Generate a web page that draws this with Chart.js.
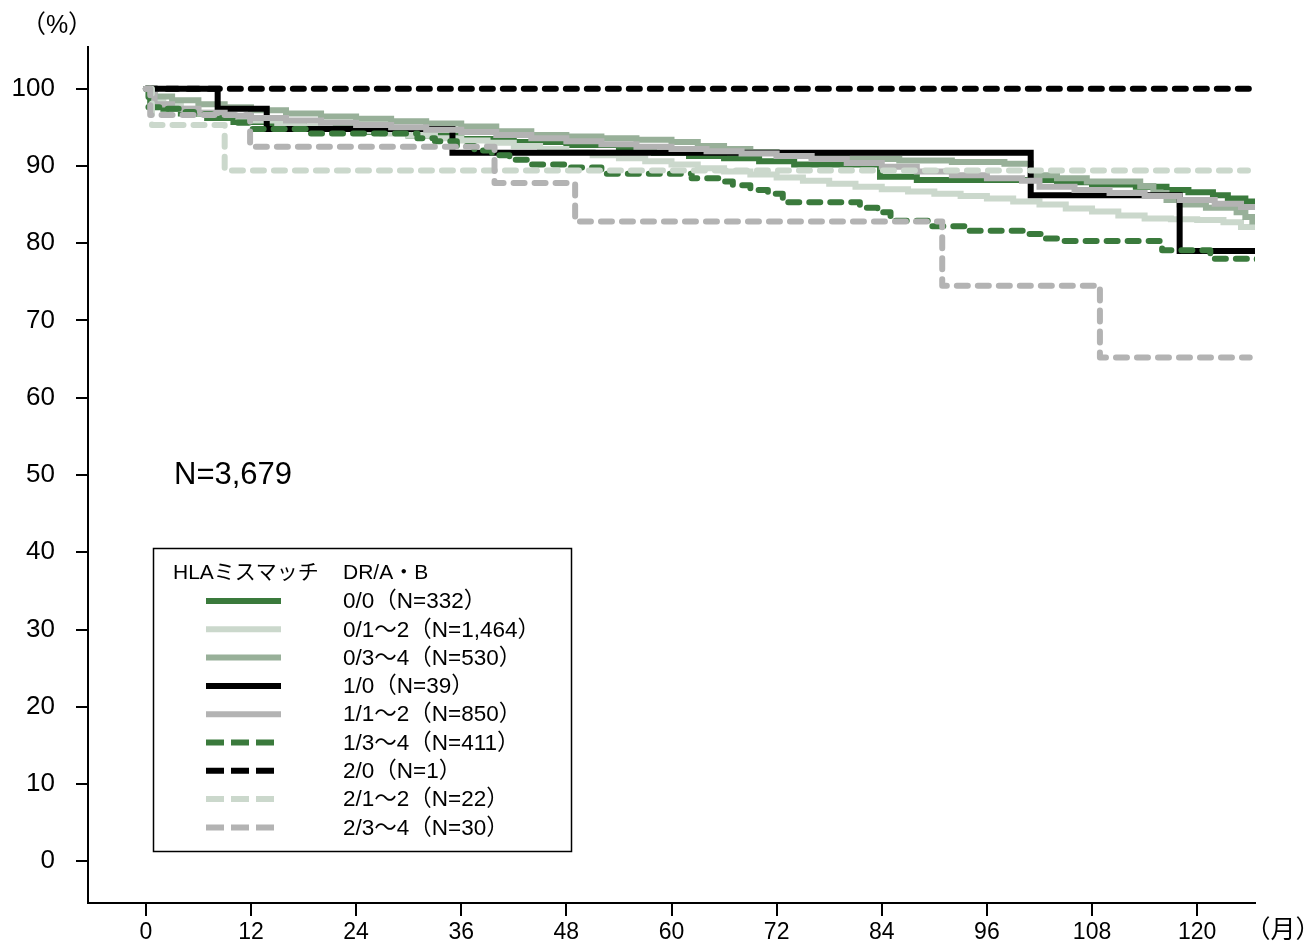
<!DOCTYPE html>
<html lang="ja">
<head>
<meta charset="utf-8">
<title>HLAミスマッチ別 生着率</title>
<script src="https://cdn.jsdelivr.net/npm/chart.js@4.4.0/dist/chart.umd.min.js"></script>
<style>
  html, body { margin: 0; padding: 0; background: #fff; }
  #chart { display: block; }
</style>
</head>
<body>
<canvas id="chart" width="1312" height="941"></canvas>
<script>
const FONT = '"Liberation Sans", Arial, "Noto Sans CJK JP", sans-serif';

// axis ticks
const xTicks = [0, 12, 24, 36, 48, 60, 72, 84, 96, 108, 120];
const yTicks = [0, 10, 20, 30, 40, 50, 60, 70, 80, 90, 100];

// legend texts, in legend order
const legendTitle = 'HLAミスマッチ';
const legendSub = 'DR/A・B';
const seriesLabels = [
  '0/0（N=332）',
  '0/1～2（N=1,464）',
  '0/3～4（N=530）',
  '1/0（N=39）',
  '1/1～2（N=850）',
  '1/3～4（N=411）',
  '2/0（N=1）',
  '2/1～2（N=22）',
  '2/3～4（N=30）'
];
const totalLabel = 'N=3,679';

// survival curves: month of each drop and the value (%) after it
const t00 = [0, 0.5, 2, 4, 7, 10, 14, 18, 24, 30, 36, 42, 48, 54, 58, 62, 66, 70, 74, 83.8, 88, 104, 108, 113, 116.5, 119, 121.8, 123.5, 125.5, 126.8];
const v00 = [100, 98.0, 97.4, 96.8, 96.2, 95.7, 95.3, 94.9, 94.4, 93.9, 93.5, 93.1, 92.7, 92.2, 91.7, 91.3, 91.0, 90.6, 90.2, 88.6, 88.2, 87.9, 87.6, 87.3, 86.9, 86.6, 86.2, 85.8, 85.4, 85.4];

const t012 = [0, 1, 2, 4, 6, 9, 12, 15, 18, 21, 24, 27, 30, 33, 36, 39, 42, 45, 48, 51, 54, 57, 60, 63, 66, 69, 72, 75, 78, 81, 84, 87, 90, 93, 96, 99, 102, 105, 108, 111, 114, 117, 120, 123, 125, 126.8];
const v012 = [100, 98.6, 98.0, 97.4, 96.9, 96.4, 95.9, 95.5, 95.1, 94.8, 94.5, 94.2, 93.9, 93.6, 93.3, 93.0, 92.6, 92.2, 91.8, 91.4, 91.0, 90.6, 90.2, 89.7, 89.3, 88.9, 88.5, 88.1, 87.7, 87.3, 87.0, 86.7, 86.4, 86.1, 85.8, 85.4, 85.0, 84.5, 84.1, 83.6, 83.2, 83.1, 83.0, 82.7, 82.1, 82.0];

const t034 = [0, 1, 3, 6, 9, 12, 16, 20, 24, 28, 32, 36, 40, 44, 48, 52, 56, 60, 63, 66, 69, 72, 76, 80, 86, 92, 98, 101, 104, 107.4, 113.5, 115, 116.5, 118, 121, 124.5, 125.5, 126.3, 126.8];
const v034 = [100, 99.0, 98.5, 98.0, 97.6, 97.2, 96.8, 96.4, 96.1, 95.8, 95.5, 95.1, 94.5, 94.0, 93.8, 93.6, 93.4, 93.1, 92.6, 92.2, 91.8, 91.5, 91.1, 90.9, 90.7, 90.5, 90.3, 88.8, 88.4, 88.0, 87.4, 86.5, 85.6, 85.0, 84.6, 84.0, 83.4, 82.8, 82.8];

const t10 = [0, 8.2, 13.8, 35, 101, 118, 126.8];
const v10 = [100, 97.4, 94.8, 91.7, 86.2, 79.0, 79.0];

const t112 = [0, 1, 3, 6, 9, 12, 16, 20, 24, 28, 32, 36, 40, 44, 48, 52, 56, 60, 64, 68, 72, 76, 80, 84, 88, 92, 96, 100, 102, 106, 110, 114, 118, 122, 125, 126.8];
const v112 = [100, 98.0, 97.4, 96.9, 96.5, 96.2, 95.9, 95.6, 95.3, 95.0, 94.7, 94.4, 94.0, 93.6, 93.2, 92.8, 92.5, 92.2, 91.9, 91.6, 91.3, 90.9, 90.4, 89.9, 89.3, 88.8, 88.4, 88.1, 87.3, 86.9, 86.5, 86.1, 85.6, 85.1, 84.7, 84.6];

const t134 = [0, 0.3, 2, 4, 5.5, 7.5, 10, 12, 18.5, 31, 33, 35.5, 37.5, 39.5, 41.5, 43.5, 48, 52, 62.3, 65.5, 67, 69, 71, 72.7, 81.5, 83.5, 85, 89.5, 93.5, 100.5, 102.5, 104, 116, 121.5, 126.8];
const v134 = [100, 97.6, 97.4, 97.0, 96.7, 96.2, 95.6, 94.8, 94.2, 93.6, 93.2, 92.6, 92.0, 91.4, 90.8, 90.2, 89.8, 89.0, 88.4, 88.0, 87.5, 86.9, 86.4, 85.3, 84.6, 84.0, 82.9, 82.2, 81.6, 81.2, 80.6, 80.3, 79.1, 78.0, 77.9];

const t20 = [0, 126.6];
const v20 = [100, 100];

const t212 = [0, 0.7, 9, 125.8];
const v212 = [100, 95.3, 89.4, 89.4];

const t234 = [0, 0.5, 11.9, 39.8, 49, 90.9, 108.9, 126];
const v234 = [100, 96.6, 92.5, 87.8, 82.8, 74.5, 65.2, 65.2];

const seriesT = [t00, t012, t034, t10, t112, t134, t20, t212, t234];
const seriesV = [v00, v012, v034, v10, v112, v134, v20, v212, v234];

// line looks
const DARK_GREEN = '#3a7a3c';
const PALE = '#cbd8cc';
const SAGE = '#98b099';
const GRAY = '#b3b3b3';
const styles = [
  { color: DARK_GREEN, dashed: false },
  { color: PALE, dashed: false },
  { color: SAGE, dashed: false },
  { color: '#000000', dashed: false },
  { color: GRAY, dashed: false },
  { color: DARK_GREEN, dashed: true },
  { color: '#000000', dashed: true },
  { color: PALE, dashed: true },
  { color: GRAY, dashed: true }
];

const datasets = seriesLabels.map(function(label, i) {
  const st = styles[i];
  return {
    label: label,
    data: seriesT[i].map(function(t, j) { return { x: t, y: seriesV[i][j] }; }),
    borderColor: st.color,
    borderWidth: 6,
    borderDash: st.dashed ? [11, 10] : [],
    borderCapStyle: st.dashed ? 'round' : 'butt',
    borderJoinStyle: st.dashed ? 'round' : 'miter',
    stepped: true,
    pointRadius: 0,
    fill: false,
    order: seriesLabels.length - i   // later series painted on top
  };
});

// legend box, unit labels and total N
const extrasPlugin = {
  id: 'extras',
  afterDraw(chart) {
    const ctx = chart.ctx;
    ctx.save();
    ctx.fillStyle = '#000';
    ctx.textBaseline = 'middle';

    ctx.font = '25px ' + FONT;
    ctx.textAlign = 'center';
    ctx.fillText('（%）', 57, 26);
    ctx.fillText('（月）', 1283, 931);

    ctx.textAlign = 'left';
    ctx.font = '31px ' + FONT;
    ctx.fillText(totalLabel, 174, chart.scales.y.getPixelForValue(50));

    ctx.lineWidth = 1.5;
    ctx.strokeStyle = '#000';
    ctx.strokeRect(153.5, 548.5, 418, 303);

    ctx.font = '21px ' + FONT;
    ctx.fillText(legendTitle, 173, 573);
    ctx.fillText(legendSub, 343, 573);

    ctx.font = '22.5px ' + FONT;
    seriesLabels.forEach(function(label, i) {
      const y = 601 + i * 28.3;
      const st = styles[i];
      ctx.beginPath();
      ctx.setLineDash(st.dashed ? [18, 7] : []);
      ctx.lineCap = 'butt';
      ctx.lineWidth = 6;
      ctx.strokeStyle = st.color;
      ctx.moveTo(206, y);
      ctx.lineTo(281, y);
      ctx.stroke();
      ctx.setLineDash([]);
      ctx.fillText(label, 343, y + 1);
    });
    ctx.restore();
  }
};

new Chart(document.getElementById('chart'), {
  type: 'line',
  data: { datasets: datasets },
  options: {
    responsive: false,
    animation: false,
    devicePixelRatio: 1,
    layout: { padding: { left: 0, top: 47, right: 57, bottom: 0 } },
    plugins: {
      legend: { display: false },
      tooltip: { enabled: false }
    },
    scales: {
      x: {
        type: 'linear',
        min: -6.6,
        max: 126.6,
        afterBuildTicks: function(s) { s.ticks = xTicks.map(function(v) { return { value: v }; }); },
        afterFit: function(s) { s.height = 38; },
        grid: { drawOnChartArea: false, drawTicks: true, tickLength: 13, color: '#000', lineWidth: 2 },
        border: { display: true, color: '#000', width: 2 },
        ticks: { color: '#000', font: { family: FONT, size: 23 }, padding: 3, maxRotation: 0, autoSkip: false }
      },
      y: {
        type: 'linear',
        min: -5.4,
        max: 105.4,
        afterBuildTicks: function(s) { s.ticks = yTicks.map(function(v) { return { value: v }; }); },
        afterFit: function(s) { s.width = 88; },
        grid: { drawOnChartArea: false, drawTicks: true, tickLength: 12, color: '#000', lineWidth: 2 },
        border: { display: true, color: '#000', width: 2 },
        ticks: { color: '#000', font: { family: FONT, size: 26 }, padding: 21, autoSkip: false }
      }
    }
  },
  plugins: [extrasPlugin]
});
</script>
</body>
</html>
